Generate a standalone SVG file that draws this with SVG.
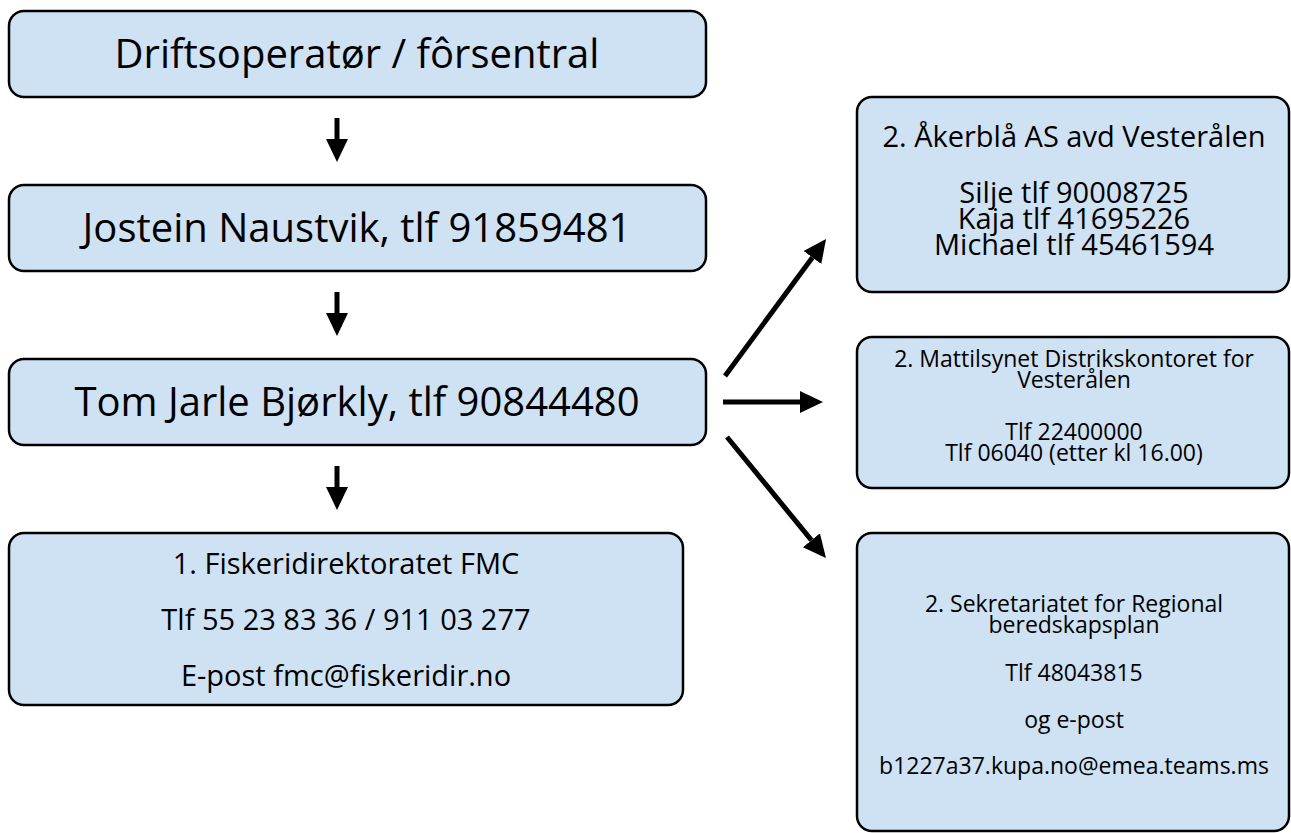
<svg xmlns="http://www.w3.org/2000/svg" width="1291" height="833" viewBox="0 0 1291 833">
<style>
.box{fill:#cfe2f3;stroke:#000;stroke-width:2.5}
text{font-family:"Open Sans","Noto Sans","DejaVu Sans",sans-serif;fill:#000;text-anchor:middle}
.big{font-size:40px}
.mid{font-size:29px}
.r1{font-size:29px}
.sm{font-size:23px}
.conn line{stroke:#000;stroke-width:5}
</style>
<defs>
<marker id="ah" markerUnits="userSpaceOnUse" markerWidth="24" markerHeight="24" viewBox="0 -12 24 24" refX="0" refY="0" orient="auto">
<path d="M0,-11 L23,0 L0,11 z" fill="#000"/>
</marker>
</defs>
<rect width="1291" height="833" fill="#fff"/>
<g id="n1"><rect class="box" x="9" y="11" width="697" height="86" rx="15"/>
<text class="big" x="357" y="68">Driftsoperatør / fôrsentral</text></g>
<g id="n2"><rect class="box" x="9" y="185" width="697" height="86" rx="15"/>
<text class="big" x="357" y="242">Jostein Naustvik, tlf 91859481</text></g>
<g id="n3"><rect class="box" x="9" y="359" width="697" height="86" rx="15"/>
<text class="big" x="357" y="416">Tom Jarle Bjørkly, tlf 90844480</text></g>
<g id="n4"><rect class="box" x="9" y="533" width="674" height="172" rx="15"/>
<text class="mid" x="346" y="574">1. Fiskeridirektoratet FMC</text>
<text class="mid" x="346" y="630">Tlf 55 23 83 36 / 911 03 277</text>
<text class="mid" x="346" y="686">E-post fmc@fiskeridir.no</text></g>
<g id="r1"><rect class="box" x="857" y="97" width="432" height="195" rx="15"/>
<text class="r1" x="1074" y="147">2. Åkerblå AS avd Vesterålen</text>
<text class="r1" x="1074" y="203">Silje tlf 90008725</text>
<text class="r1" x="1074" y="229">Kaja tlf 41695226</text>
<text class="r1" x="1074" y="255">Michael tlf 45461594</text></g>
<g id="r2"><rect class="box" x="857" y="337" width="432" height="151" rx="15"/>
<text class="sm" x="1074" y="367">2. Mattilsynet Distrikskontoret for</text>
<text class="sm" x="1074" y="388">Vesterålen</text>
<text class="sm" x="1074" y="440">Tlf 22400000</text>
<text class="sm" x="1074" y="461">Tlf 06040 (etter kl 16.00)</text></g>
<g id="r3"><rect class="box" x="857" y="533" width="432" height="298" rx="15"/>
<text class="sm" x="1074" y="612">2. Sekretariatet for Regional</text>
<text class="sm" x="1074" y="633">beredskapsplan</text>
<text class="sm" x="1074" y="681">Tlf 48043815</text>
<text class="sm" x="1074" y="728">og e-post</text>
<text class="sm" x="1074" y="774">b1227a37.kupa.no@emea.teams.ms</text></g>
<g id="connectors" class="conn">
<line x1="337" y1="118" x2="337" y2="139" marker-end="url(#ah)"/>
<line x1="337" y1="292" x2="337" y2="313" marker-end="url(#ah)"/>
<line x1="337" y1="466" x2="337" y2="487" marker-end="url(#ah)"/>
<line x1="725" y1="376" x2="812.4" y2="257.5" marker-end="url(#ah)"/>
<line x1="723" y1="402" x2="800" y2="402" marker-end="url(#ah)"/>
<line x1="727" y1="437" x2="811.4" y2="540.2" marker-end="url(#ah)"/>
</g>
</svg>
